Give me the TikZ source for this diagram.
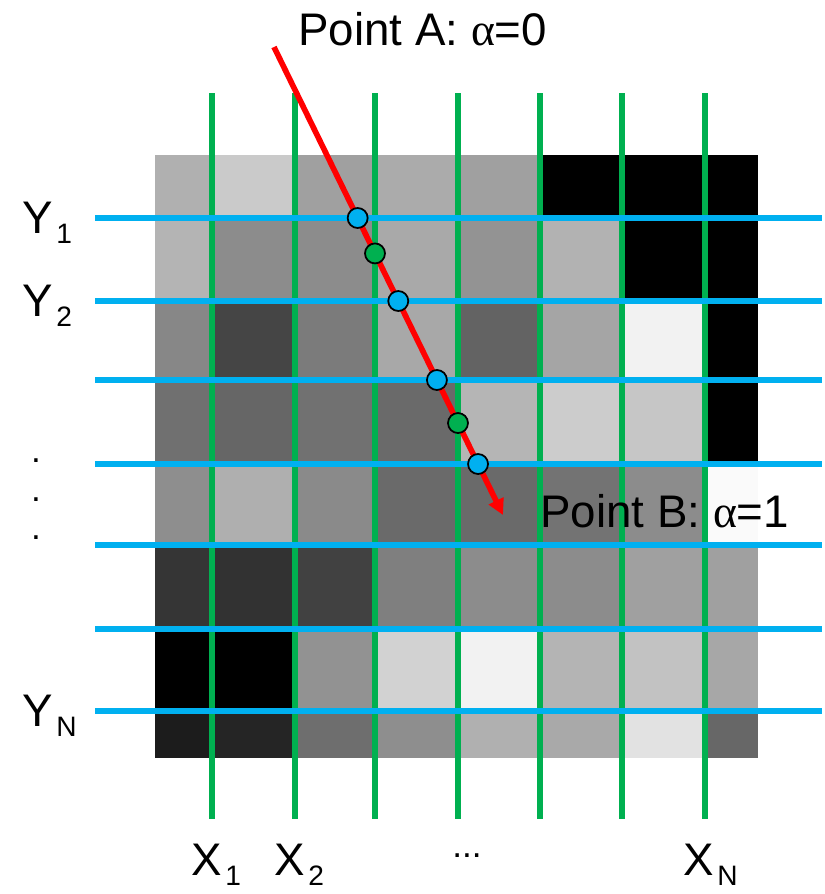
\documentclass[tikz,border=0pt]{standalone}
\usepackage{fontspec}
\setmainfont{Liberation Sans}
\newfontfamily\greekfont{Liberation Serif}
\usetikzlibrary{arrows.meta}
\usetikzlibrary{calc}
\definecolor{gridgreen}{HTML}{00B050}
\definecolor{gridblue}{HTML}{00B0F0}
\definecolor{rayred}{HTML}{FF0000}
\newcommand{\gridsub}[1]{\hspace{2pt}\raisebox{-6pt}{\fontsize{16}{16}\selectfont #1}}

\begin{document}
\begin{tikzpicture}[
  x=0.02cm, y=-0.02cm,
  vline/.style={draw=gridgreen, line width=3.4pt},
  hline/.style={draw=gridblue, line width=3.4pt},
  ray/.style={draw=rayred, line width=3.2pt, -{Triangle[length=9pt, width=9pt]}},
  hit/.style={circle, draw=black, line width=1pt, fill=gridblue,
    minimum size=0.4cm, inner sep=0pt},
  hitx/.style={hit, fill=gridgreen},
  axislabel/.style={font=\fontsize{26}{30}\selectfont, inner sep=0pt},
  dotlabel/.style={font=\fontsize{20}{20}\selectfont, inner sep=0pt},
]
\useasboundingbox (0,0) rectangle (825,894);

% === Gray cells ===
\def\xs{{155,212,295,375,458,540,622,705,758}}
\def\ys{{155,218,301,380,464,545,629,711,758}}
\foreach \row [count=\r from 0] in {
  {176,202,160,171,160,0,0,0},
  {180,140,140,169,147,178,0,0},
  {135,69,123,168,99,165,242,0},
  {112,102,113,106,181,204,198,0},
  {142,175,138,106,106,115,140,250},
  {53,50,65,127,140,140,160,160},
  {0,0,146,210,242,180,194,167},
  {28,37,110,142,176,169,226,103}} {
  \foreach \v [count=\c from 0] in \row {
    \pgfmathsetmacro\xa{\xs[\c]}
    \pgfmathsetmacro\xb{\xs[\c+1]}
    \pgfmathsetmacro\ya{\ys[\r]}
    \pgfmathsetmacro\yb{\ys[\r+1]}
    \definecolor{cellgray}{RGB}{\v,\v,\v}
    \fill[cellgray] (\xa,\ya) rectangle (\xb,\yb);
  }
}

% === Grid lines ===
\foreach \x in {212,295,375,458,540,622,705}
  \draw[vline] (\x,93) -- (\x,819);
\foreach \y in {218,301,380,464,545,629,711}
  \draw[hline] (95,\y) -- (822,\y);

% === Ray from A to B ===
\coordinate (ptA) at (274,47);
\coordinate (ptB) at (503,515);
\draw[ray] (ptA) -- (ptB);
\foreach \y [count=\i] in {218,301,380,464}
  \node[hit] (hy\i) at ($(ptA)!{(\y-47)/468}!(ptB)$) {};
\foreach \x [count=\i] in {375,458}
  \node[hitx] (hx\i) at ($(ptA)!{(\x-274)/229}!(ptB)$) {};

% === Labels ===
\node[axislabel, anchor=base west] (labA) at (298,45) {Point A: {\greekfont α}=0};
\node[axislabel, anchor=base west] (labB) at (540,527) {Point B: {\greekfont α}=1};
\node[axislabel, anchor=base west] (labY1) at (22,233) {Y\gridsub{1}};
\node[axislabel, anchor=base west] (labY2) at (22,316) {Y\gridsub{2}};
\node[axislabel, anchor=base west] (labYN) at (22,726) {Y\gridsub{N}};
\foreach \y [count=\i] in {461,500,538}
  \node[dotlabel] (vdot\i) at (36,\y) {.};
\node[axislabel, anchor=base west] (labX1) at (191,875) {X\gridsub{1}};
\node[axislabel, anchor=base west] (labX2) at (274,875) {X\gridsub{2}};
\node[dotlabel] (hdots) at (467,856) {...};
\node[axislabel, anchor=base west] (labXN) at (683,875) {X\gridsub{N}};
\end{tikzpicture}
\end{document}
